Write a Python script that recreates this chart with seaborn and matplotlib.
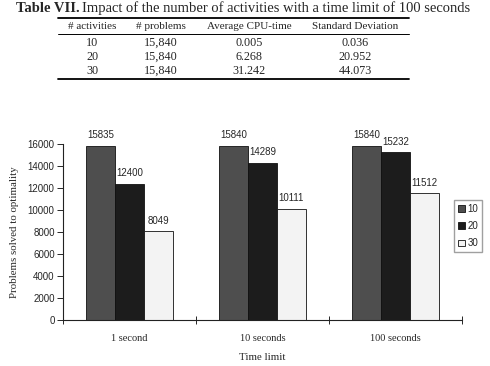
import matplotlib
matplotlib.use("Agg")
import matplotlib.pyplot as plt
from matplotlib.lines import Line2D
import seaborn as sns
import pandas as pd

# table data
table_cols = ['# activities', '# problems', 'Average CPU-time', 'Standard Deviation']
activities = ['10', '20', '30']
problems = ['15,840', '15,840', '15,840']
avg_cpu = ['0.005', '6.268', '31.242']
std_dev = ['0.036', '20.952', '44.073']

# chart data
time_limits = ['1 second', '10 seconds', '100 seconds']
solved_10 = [15835, 15840, 15840]
solved_20 = [12400, 14289, 15232]
solved_30 = [8049, 10111, 11512]

SERIF = 'Liberation Serif'
SANS = 'Liberation Sans'
W, H = 490, 366


def fx(px):
    return px / W


def fy(px):
    return 1 - px / H


def main():
    sns.set_style('white')
    plt.rcParams['font.family'] = SANS

    df = pd.DataFrame({
        'Time limit': time_limits * 3,
        'Activities': ['10'] * 3 + ['20'] * 3 + ['30'] * 3,
        'Solved': solved_10 + solved_20 + solved_30,
    })

    fig = plt.figure(figsize=(W / 100, H / 100), dpi=100)

    # title + table on top
    fig.text(fx(16), fy(8), 'Table VII.', fontfamily=SERIF, fontweight='bold',
             fontsize=10.5, ha='left', va='center')
    fig.text(fx(82), fy(8), 'Impact of the number of activities with a time limit of 100 seconds',
             fontfamily=SERIF, fontsize=10.5, ha='left', va='center')

    col_x = [92, 161, 249, 355]
    fig.add_artist(Line2D([fx(58), fx(409)], [fy(17.5), fy(17.5)], color='black', lw=1.3))
    fig.add_artist(Line2D([fx(58), fx(409)], [fy(34), fy(34)], color='black', lw=0.7))
    fig.add_artist(Line2D([fx(58), fx(409)], [fy(79), fy(79)], color='black', lw=1.3))
    for x, name in zip(col_x, table_cols):
        fig.text(fx(x), fy(26.5), name, fontfamily=SERIF, fontsize=8, ha='center', va='center')
    rows = list(zip(activities, problems, avg_cpu, std_dev))
    for r, row in enumerate(rows):
        for x, val in zip(col_x, row):
            fig.text(fx(x), fy(43 + r * 14), val, fontfamily=SERIF, fontsize=8.7,
                     ha='center', va='center')

    # chart
    ax = fig.add_axes([fx(63), fy(320), fx(462) - fx(63), fy(144) - fy(320)])
    palette = {'10': '#4e4e4e', '20': '#1c1c1c', '30': '#f3f3f3'}
    sns.barplot(df, x='Time limit', y='Solved', hue='Activities', palette=palette,
                width=0.65, gap=0, edgecolor='#111111', linewidth=0.6, saturation=1,
                ax=ax, legend=False)
    for c in ax.containers:
        ax.bar_label(c, padding=4, fontsize=7, fontfamily=SANS)

    ax.set_xlim(-0.5, 2.5)
    ax.set_ylim(0, 16000)
    ax.set_yticks(range(0, 16001, 2000))
    ax.tick_params(axis='y', labelsize=7, length=4, width=0.7, direction='out', left=True, pad=2)
    ax.set_xticks([0, 1, 2])
    ax.set_xticklabels(time_limits, fontfamily=SERIF, fontsize=7.5)
    ax.tick_params(axis='x', length=0, pad=10)
    ax.set_xticks([-0.5, 0.5, 1.5, 2.5], minor=True)
    ax.tick_params(axis='x', which='minor', length=6, width=0.7, direction='inout', bottom=True)
    for s in ['top', 'right']:
        ax.spines[s].set_visible(False)
    for s in ['left', 'bottom']:
        ax.spines[s].set_color('#222222')
        ax.spines[s].set_linewidth(0.8)
    ax.set_ylabel('Problems solved to optimality', fontfamily=SERIF, fontsize=7.8, labelpad=6)
    ax.set_xlabel('')
    fig.text(fx(262), fy(357), 'Time limit', fontfamily=SERIF, fontsize=7.8,
             ha='center', va='center')
    ax.grid(False)

    # legend at the right
    handles = [plt.Rectangle((0, 0), 1, 1, facecolor=palette[k], edgecolor='#111111', lw=0.6)
               for k in ['10', '20', '30']]
    fig.legend(handles, ['10', '20', '30'], loc='upper left',
               bbox_to_anchor=(fx(454), fy(200)), fontsize=7, frameon=True,
               fancybox=False, edgecolor='#888888', handlelength=0.7, handleheight=0.7,
               handletextpad=0.3, borderpad=0.4, labelspacing=0.75, borderaxespad=0)

    fig.savefig('out.png', dpi=100)


if __name__ == "__main__":
    main()
